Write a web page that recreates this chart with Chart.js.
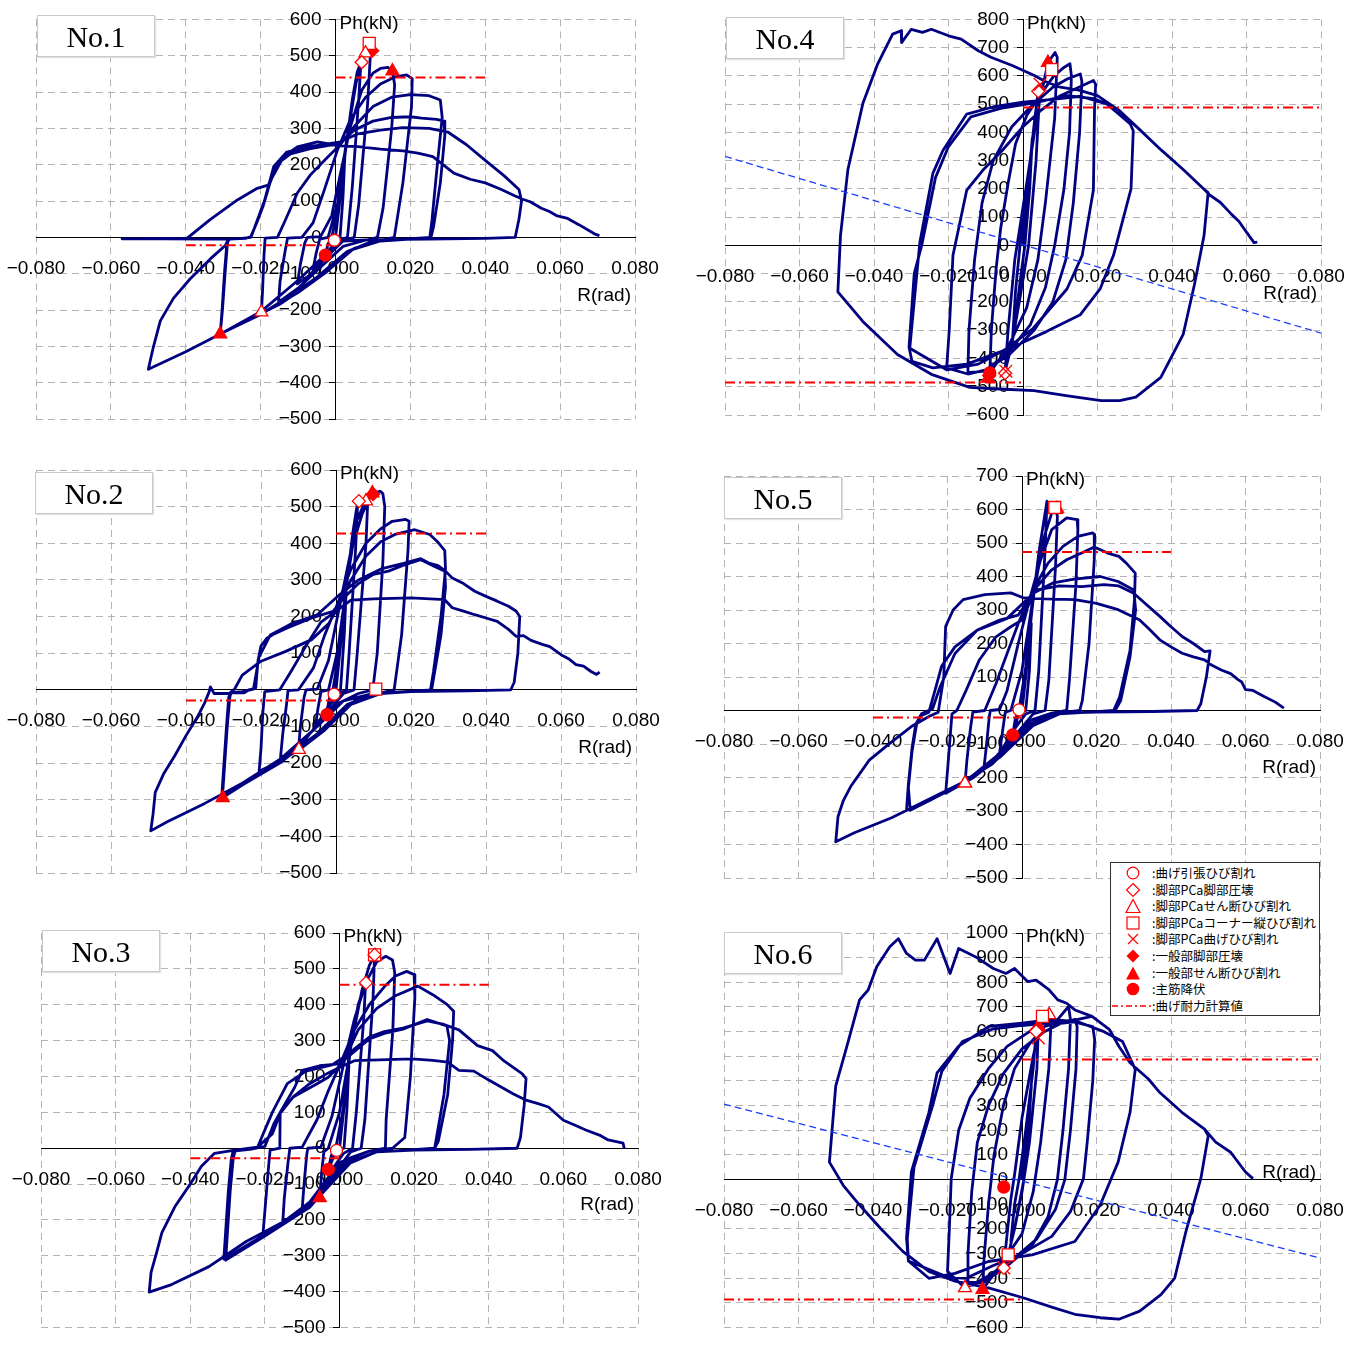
<!DOCTYPE html>
<html>
<head>
<meta charset="UTF-8">
<script src="https://cdn.jsdelivr.net/npm/chart.js@4.4.1/dist/chart.umd.min.js"></script>
<style>
  body { margin:0; background:#fff; width:1362px; height:1347px; position:relative; overflow:hidden; }
  canvas { position:absolute; left:-60px; top:0; }
  .ttl { position:absolute; width:116px; height:40px; border:1px solid #c9c9c9; box-shadow:1px 1px 1px #e2e2e2;
         background:#fff; font-family:"Liberation Serif"; font-size:30px; line-height:41px; text-align:center; z-index:5; }
  .legend { position:absolute; left:1110px; top:862px; width:208px; height:152px; border:1px solid #333;
            background:#fff; z-index:6; font-family:"Noto Sans CJK JP"; font-size:12.5px; }
  .legend .row { position:absolute; left:0; height:16px; line-height:16px; white-space:nowrap; }
  .legend svg { position:absolute; top:0; }
  .legend span { position:absolute; left:41px; top:0; }
</style>
</head>
<body>
<canvas id="c1" width="1482" height="1347"></canvas>
<canvas id="c2" width="1482" height="1347"></canvas>
<canvas id="c3" width="1482" height="1347"></canvas>
<canvas id="c4" width="1482" height="1347"></canvas>
<canvas id="c5" width="1482" height="1347"></canvas>
<canvas id="c6" width="1482" height="1347"></canvas>

<div class="ttl" style="left:37px;top:15px">No.1</div>
<div class="ttl" style="left:35px;top:472px">No.2</div>
<div class="ttl" style="left:42px;top:930px">No.3</div>
<div class="ttl" style="left:726px;top:17px">No.4</div>
<div class="ttl" style="left:724px;top:477px">No.5</div>
<div class="ttl" style="left:724px;top:932px">No.6</div>

<div class="legend">
  <div class="row" style="top:2px"><svg width="40" height="16"><circle cx="22" cy="8" r="5.8" fill="#fff" stroke="#f00" stroke-width="1.2"/></svg><span>:曲げ引張ひび割れ</span></div>
  <div class="row" style="top:18.6px"><svg width="40" height="16"><polygon points="22,1.5 28.5,8 22,14.5 15.5,8" fill="#fff" stroke="#f00" stroke-width="1.2"/></svg><span>:脚部PCa脚部圧壊</span></div>
  <div class="row" style="top:35.2px"><svg width="40" height="16"><polygon points="22,1.5 29,14.5 15,14.5" fill="#fff" stroke="#f00" stroke-width="1.2"/></svg><span>:脚部PCaせん断ひび割れ</span></div>
  <div class="row" style="top:51.8px"><svg width="40" height="16"><rect x="16" y="2" width="12" height="12" fill="#fff" stroke="#f00" stroke-width="1.2"/></svg><span>:脚部PCaコーナー縦ひび割れ</span></div>
  <div class="row" style="top:68.4px"><svg width="40" height="16"><path d="M17,3 L27,13 M27,3 L17,13" stroke="#f00" stroke-width="1.2"/></svg><span>:脚部PCa曲げひび割れ</span></div>
  <div class="row" style="top:85px"><svg width="40" height="16"><polygon points="22,1.5 28.5,8 22,14.5 15.5,8" fill="#f00"/></svg><span>:一般部脚部圧壊</span></div>
  <div class="row" style="top:101.6px"><svg width="40" height="16"><polygon points="22,1.5 29,14.5 15,14.5" fill="#f00"/></svg><span>:一般部せん断ひび割れ</span></div>
  <div class="row" style="top:118.2px"><svg width="40" height="16"><circle cx="22" cy="8" r="6.3" fill="#f00"/></svg><span>:主筋降伏</span></div>
  <div class="row" style="top:134.8px"><svg width="41" height="16"><line x1="1" y1="8" x2="41" y2="8" stroke="#f00" stroke-width="1.3" stroke-dasharray="6,3,2,3"/></svg><span>:曲げ耐力計算値</span></div>
</div>

<script>
// ---- data: [R (rad), Ph (kN)] ----
const no1Curve = [
  [0,0],[0.0015,130],[0.0025,225],[0.002,110],[0.0012,0],[-0.0012,-28],[-0.0027,-49],[-0.002,-18],[-0.001,0],
  [0.001,95],[0.003,265],[0.0045,380],[0.0058,455],[0.0068,482],[0.0062,380],[0.0045,140],[0.0032,0],[0.001,-8],[-0.002,-40],[-0.0045,-72],[-0.006,-88],[-0.0052,-45],[-0.0042,-5],[-0.002,0],
  [0.0005,90],[0.003,270],[0.0055,425],[0.0072,495],[0.008,507],[0.0088,528],[0.0093,500],[0.0086,370],[0.0062,90],[0.005,0],[0.002,-10],[-0.003,-60],[-0.007,-105],[-0.0102,-128],[-0.0094,-75],[-0.0082,-15],[-0.0075,0],[-0.004,2],
  [-0.001,60],[0.001,160],[0.004,305],[0.007,405],[0.01,452],[0.012,465],[0.014,468],[0.0152,458],[0.0158,420],[0.015,300],[0.0127,80],[0.0112,0],[0.008,-8],[0.002,-25],[-0.004,-82],[-0.01,-140],[-0.0152,-178],[-0.0148,-120],[-0.0135,-40],[-0.0128,-2],[-0.009,0],
  [-0.006,40],[-0.003,130],[0.0005,240],[0.004,325],[0.008,385],[0.012,422],[0.016,442],[0.019,447],[0.0205,437],[0.0203,360],[0.018,150],[0.0157,0],[0.012,-8],[0.005,-30],[-0.003,-100],[-0.01,-152],[-0.0155,-185],[-0.0198,-209],[-0.0195,-150],[-0.0191,-50],[-0.0188,-2],[-0.0155,0],
  [-0.0135,45],[-0.0102,122],[-0.0067,172],[-0.002,222],[0.001,252],[0.005,305],[0.01,360],[0.015,386],[0.02,393],[0.025,390],[0.028,378],[0.0285,330],[0.0272,200],[0.0258,50],[0.0252,0],[0.02,-5],[0.012,-10],[0.004,-35],[-0.005,-115],[-0.015,-185],[-0.025,-235],[-0.0308,-266],[-0.0302,-200],[-0.0295,-100],[-0.0289,-20],[-0.0286,-5],
  [-0.025,-3],[-0.0227,0],[-0.021,41],[-0.0193,87],[-0.0175,150],[-0.0155,203],[-0.012,230],[-0.0067,244],[0.001,258],[0.005,295],[0.01,320],[0.015,330],[0.02,332],[0.023,328],[0.027,325],[0.029,320],[0.0292,280],[0.028,150],[0.0262,30],[0.0255,0],[0.018,-5],[0.01,-10],[0.003,-40],[-0.005,-110],[-0.012,-160],[-0.02,-212],[-0.03,-262],[-0.0308,-268],[-0.0303,-200],[-0.0296,-90],[-0.029,-15],[-0.0283,-5],
  [-0.024,-3],[-0.0225,2],[-0.0208,50],[-0.019,100],[-0.0165,195],[-0.013,235],[-0.007,250],[0.001,262],[0.006,285],[0.012,295],[0.018,302],[0.025,300],[0.03,290],[0.035,255],[0.04,212],[0.045,170],[0.049,132],[0.0497,100],[0.049,50],[0.048,0],
  [0.04,-3],[0.025,-5],[0.01,-6],[0.002,-10],[-0.004,-60],[-0.01,-118],[-0.02,-205],[-0.03,-262],[-0.04,-315],[-0.05,-363],
  [-0.0487,-304],[-0.0468,-230],[-0.0433,-168],[-0.0388,-114],[-0.0335,-60],[-0.0294,-22],[-0.0286,-5],[-0.035,-5],[-0.045,-4],[-0.057,-4],[-0.045,-3],[-0.0396,-2],
  [-0.0335,49],[-0.0262,103],[-0.0209,135],[-0.018,144],[-0.0139,222],[-0.0102,249],[-0.0048,263],[0.0013,252],[0.006,250],[0.012,243],[0.018,238],[0.022,232],[0.026,222],[0.0316,177],[0.036,160],[0.04,150],[0.044,133],[0.048,114],[0.05,105],[0.052,98],[0.055,80],[0.057,72],[0.059,60],[0.062,52],[0.065,35],[0.0695,8],[0.0705,5]
];
const no2Curve = [
  [0,0],[0.0015,150],[0.0028,290],[0.0022,150],[0.0012,0],[-0.001,-25],[-0.0025,-63],[-0.0018,-25],[-0.0008,0],
  [0.001,120],[0.003,300],[0.0045,430],[0.0058,515],[0.0052,380],[0.0035,100],[0.0028,0],[0.001,-10],[-0.002,-45],[-0.0045,-85],[-0.0055,-100],[-0.0048,-50],[-0.004,-5],[-0.002,0],
  [0.0005,110],[0.003,300],[0.0055,460],[0.0078,515],[0.0085,525],[0.008,400],[0.0055,80],[0.0048,0],[0.002,-10],[-0.003,-70],[-0.007,-120],[-0.01,-163],[-0.0095,-100],[-0.0085,-20],[-0.008,0],[-0.005,2],
  [-0.002,80],[0.001,230],[0.004,380],[0.007,480],[0.0095,537],[0.0118,542],[0.0125,535],[0.013,500],[0.0125,350],[0.011,100],[0.0098,0],[0.006,-10],[0.0,-40],[-0.006,-110],[-0.012,-170],[-0.0148,-185],[-0.0142,-120],[-0.0132,-40],[-0.0128,-2],[-0.01,0],
  [-0.006,60],[-0.003,150],[0.001,250],[0.004,330],[0.008,400],[0.012,440],[0.015,460],[0.0186,465],[0.0195,460],[0.0192,380],[0.0175,150],[0.0155,0],[0.012,-8],[0.005,-30],[-0.003,-110],[-0.01,-165],[-0.018,-210],[-0.0205,-222],[-0.02,-160],[-0.0195,-60],[-0.019,-5],[-0.015,0],
  [-0.012,50],[-0.008,120],[-0.004,185],[0.0,215],[0.004,300],[0.008,365],[0.012,405],[0.016,425],[0.021,437],[0.025,424],[0.027,405],[0.029,380],[0.0292,330],[0.028,200],[0.026,50],[0.0252,0],[0.02,-5],[0.012,-10],[0.004,-40],[-0.005,-120],[-0.015,-200],[-0.025,-260],[-0.0303,-295],[-0.0298,-220],[-0.029,-100],[-0.0283,-20],[-0.028,-8],
  [-0.0245,-8],[-0.0232,0],[-0.0214,5],[-0.0208,80],[-0.02,120],[-0.0185,140],[-0.0168,151],[-0.013,169],[-0.0065,196],[-0.0008,214],[0.002,250],[0.006,290],[0.01,315],[0.014,324],[0.018,340],[0.0226,355],[0.024,348],[0.026,338],[0.029,324],[0.0292,280],[0.028,150],[0.026,30],[0.0255,0],[0.018,-5],[0.01,-10],[0.003,-40],[-0.005,-120],[-0.015,-195],[-0.025,-255],[-0.0305,-296],[-0.03,-220],[-0.0292,-100],[-0.0286,-20],[-0.0282,-8],
  [-0.025,-5],[-0.022,2],[-0.0205,90],[-0.0175,150],[-0.012,180],[-0.005,205],[0.001,260],[0.006,300],[0.012,330],[0.018,345],[0.0226,358],[0.025,345],[0.027,340],[0.029,326],[0.031,305],[0.034,290],[0.037,269],[0.04,255],[0.043,242],[0.046,228],[0.048,215],[0.049,200],[0.0485,100],[0.0475,20],[0.0466,0],
  [0.035,-3],[0.02,-5],[0.01,-10],[0.002,-30],[-0.005,-100],[-0.015,-190],[-0.025,-255],[-0.035,-310],[-0.045,-360],[-0.0494,-385],[-0.0488,-340],[-0.0482,-280],[-0.046,-230],[-0.043,-180],[-0.04,-125],[-0.037,-75],[-0.035,-35],[-0.0338,-5],
  [-0.0335,8],[-0.0325,-10],[-0.0285,-10],[-0.027,3],[-0.025,40],[-0.02,78],[-0.0134,105],[-0.0065,137],[-0.002,180],[0.0,215],[0.004,245],[0.01,248],[0.02,251],[0.029,246],[0.031,224],[0.034,215],[0.037,205],[0.04,196],[0.043,187],[0.046,165],[0.048,146],[0.05,148],[0.052,135],[0.055,124],[0.057,118],[0.06,96],[0.062,85],[0.064,69],[0.066,65],[0.068,50],[0.0695,42],[0.0703,48]
];
const no3Curve = [
  [0,0],[0.0015,140],[0.0025,230],[0.002,110],[0.0012,0],[-0.0008,-6],[-0.002,-35],[-0.003,-60],[-0.0022,-20],[-0.001,0],
  [0.001,110],[0.003,280],[0.005,400],[0.007,461],[0.0065,360],[0.0045,100],[0.0035,0],[0.001,-15],[-0.002,-60],[-0.0053,-138],[-0.0048,-70],[-0.0042,-10],[-0.003,0],
  [0,100],[0.003,280],[0.006,440],[0.008,510],[0.0094,539],[0.009,420],[0.0068,80],[0.0058,0],[0.003,-10],[-0.002,-80],[-0.007,-150],[-0.01,-170],[-0.0095,-100],[-0.0088,-20],[-0.0085,0],[-0.005,3],
  [-0.002,90],[0.001,230],[0.004,360],[0.007,460],[0.01,520],[0.0124,535],[0.0142,525],[0.0148,490],[0.0143,330],[0.0125,80],[0.0123,0],[0.008,-8],[0.002,-30],[-0.005,-120],[-0.012,-190],[-0.0152,-205],[-0.0148,-140],[-0.0138,-40],[-0.0133,0],[-0.01,3],
  [-0.006,80],[-0.003,160],[0.0,230],[0.004,330],[0.008,400],[0.012,450],[0.015,480],[0.018,493],[0.02,484],[0.0202,420],[0.019,200],[0.0175,30],[0.0142,0],[0.008,-8],[0.0,-40],[-0.008,-150],[-0.015,-205],[-0.02,-235],[-0.0205,-238],[-0.0198,-150],[-0.019,-50],[-0.0186,-5],[-0.016,0],
  [-0.0159,97],[-0.0124,143],[-0.006,180],[-0.003,198],[0.001,240],[0.005,330],[0.01,390],[0.015,425],[0.021,452],[0.025,428],[0.0288,401],[0.0306,382],[0.0303,300],[0.029,150],[0.0265,20],[0.0255,0],[0.018,-5],[0.01,-10],[0.002,-40],[-0.008,-160],[-0.02,-240],[-0.031,-309],[-0.0305,-230],[-0.0298,-120],[-0.029,-30],[-0.0285,-8],
  [-0.024,-3],[-0.02,5],[-0.0175,70],[-0.0159,100],[-0.012,170],[-0.01,217],[-0.0053,230],[0.0,235],[0.004,270],[0.008,305],[0.012,320],[0.017,332],[0.0235,359],[0.026,350],[0.0288,341],[0.0295,300],[0.028,150],[0.026,30],[0.0255,0],
  [0.018,-5],[0.01,-10],[0.002,-45],[-0.008,-165],[-0.02,-245],[-0.0305,-312],[-0.03,-230],[-0.0293,-120],[-0.0285,-30],[-0.028,-8],
  [-0.022,2],[-0.018,100],[-0.014,180],[-0.009,215],[-0.002,232],[0.002,260],[0.008,310],[0.012,325],[0.017,335],[0.0235,355],[0.028,345],[0.032,330],[0.037,286],[0.041,272],[0.044,244],[0.049,207],[0.05,194],[0.0495,120],[0.0485,30],[0.0476,0],
  [0.035,-3],[0.02,-5],[0.01,-10],[0.003,-40],[-0.005,-130],[-0.015,-205],[-0.025,-260],[-0.035,-330],[-0.045,-380],[-0.051,-401],[-0.0505,-346],[-0.049,-290],[-0.0476,-235],[-0.044,-161],[-0.04,-100],[-0.037,-50],[-0.0335,-14],[-0.028,-5],[-0.022,3],
  [-0.018,40],[-0.0159,97],[-0.0124,143],[-0.008,180],[-0.003,210],[0.0,225],[0.004,244],[0.0194,249],[0.025,245],[0.029,240],[0.032,217],[0.036,215],[0.04,190],[0.0465,152],[0.05,134],[0.053,125],[0.056,115],[0.06,78],[0.063,65],[0.066,51],[0.07,35],[0.072,23],[0.0745,18],[0.076,14],[0.0763,0]
];
const no4Curve = [
  [0,0],[0.001,150],[0.002,300],[0.0025,380],[0.0018,200],[0.0005,0],[-0.001,-150],[-0.002,-260],[-0.0028,-330],[-0.002,-160],[-0.0008,0],
  [0.001,190],[0.003,430],[0.0041,546],[0.0046,570],[0.0035,300],[0.0015,0],[-0.001,-200],[-0.003,-350],[-0.0048,-445],[-0.004,-300],[-0.0022,-50],[-0.001,50],
  [0.001,220],[0.004,480],[0.0067,647],[0.0086,683],[0.0092,665],[0.0085,450],[0.006,150],[0.004,-50],[0.001,-220],[-0.004,-360],[-0.0089,-450],
  [-0.0085,-300],[-0.0072,-80],[-0.006,60],[-0.004,220],[-0.002,360],[0.001,460],[0.005,540],[0.0083,600],[0.011,630],[0.0126,643],[0.013,600],[0.0125,400],[0.011,200],[0.0085,0],[0.006,-150],[0.002,-280],[-0.004,-380],[-0.0103,-445],
  [-0.0148,-450],[-0.0145,-300],[-0.013,-50],[-0.011,150],[-0.008,300],[-0.003,420],[0.002,490],[0.008,560],[0.012,590],[0.0154,607],[0.0158,580],[0.0152,400],[0.0135,150],[0.0115,-50],[0.008,-200],[0.003,-300],[-0.004,-390],[-0.01,-440],[-0.0148,-455],
  [-0.0205,-433],[-0.0198,-300],[-0.0188,-35],[-0.0151,196],[-0.0108,266],[-0.006,330],[0.0,420],[0.005,480],[0.01,530],[0.015,560],[0.0189,584],[0.0195,570],[0.0192,483],[0.0189,196],[0.0159,-35],[0.0118,-154],[0.0027,-294],[-0.005,-370],[-0.012,-420],[-0.0205,-440],
  [-0.0304,-364],[-0.0277,10],[-0.0242,255],[-0.0215,336],[-0.0151,465],[-0.0081,490],[0.0,507],[0.008,517],[0.0154,528],[0.0226,500],[0.0288,430],[0.0296,406],[0.029,200],[0.0243,-35],[0.0207,-154],[0.0154,-245],[0.0064,-304],[-0.0035,-364],[-0.0151,-420],[-0.0242,-433],[-0.0298,-410],
  [-0.0306,-360],[-0.0292,-100],[-0.0272,0],[-0.0235,240],[-0.02,350],[-0.014,455],[-0.006,485],[0.003,505],[0.012,530],[0.019,520],[0.0226,500],[0.0257,479],[0.0314,409],[0.037,339],[0.043,269],[0.0486,199],[0.0497,187],
  [0.0486,35],[0.046,-140],[0.043,-315],[0.037,-467],[0.0303,-537],[0.026,-549],[0.021,-549],[0.012,-532],[0.0029,-514],[-0.0063,-508],[-0.0143,-502],[-0.0246,-456],[-0.0337,-386],[-0.043,-269],[-0.0497,-164],
  [-0.049,35],[-0.047,269],[-0.043,502],[-0.039,643],[-0.035,748],[-0.0327,760],[-0.0326,718],[-0.03,765],[-0.027,754],[-0.0246,765],[-0.02,742],[-0.0166,730],[-0.012,689],[-0.0086,666],[-0.0029,637],[0.0029,602],[0.006,580],[0.01,560],[0.015,550],[0.02,530],[0.0257,479],[0.0314,409],[0.037,339],[0.043,269],[0.0486,199],[0.05,180],[0.053,152],[0.056,110],[0.058,85],[0.06,47],[0.0615,20],[0.062,10],[0.0629,12]
];
const no5Curve = [
  [0,0],[0.0015,150],[0.0025,260],[0.002,120],[0.001,0],[-0.0008,0],[-0.0015,-35],[-0.0025,-73],[-0.0018,-25],[-0.0008,0],
  [0.001,130],[0.003,330],[0.0045,470],[0.0055,540],[0.0067,625],[0.0062,480],[0.0045,120],[0.0035,0],[0.001,-10],[-0.002,-55],[-0.005,-110],[-0.006,-125],[-0.0052,-60],[-0.0045,-5],[-0.003,0],
  [0.0,120],[0.003,340],[0.006,520],[0.008,590],[0.009,605],[0.0095,580],[0.009,430],[0.0072,90],[0.0062,0],[0.003,-10],[-0.003,-90],[-0.008,-150],[-0.0102,-170],[-0.0095,-100],[-0.0088,-20],[-0.0085,0],[-0.006,3],
  [-0.004,60],[-0.001,200],[0.002,330],[0.005,450],[0.008,540],[0.012,575],[0.0148,570],[0.015,540],[0.0145,380],[0.0128,100],[0.012,0],[0.008,-8],[0.002,-30],[-0.005,-120],[-0.012,-190],[-0.0153,-217],[-0.0148,-150],[-0.0138,-50],[-0.0132,-5],[-0.01,0],
  [-0.007,80],[-0.004,170],[-0.001,260],[0.003,360],[0.007,440],[0.011,490],[0.015,520],[0.019,530],[0.0195,525],[0.0194,450],[0.018,200],[0.0162,30],[0.0155,0],[0.01,-8],[0.003,-40],[-0.005,-130],[-0.013,-200],[-0.0205,-247],[-0.02,-180],[-0.0193,-80],[-0.0188,-10],[-0.0175,0],
  [-0.015,60],[-0.0115,150],[-0.007,220],[-0.003,250],[0.0,270],[0.004,370],[0.008,420],[0.012,450],[0.016,470],[0.0194,488],[0.023,470],[0.026,460],[0.028,440],[0.0304,410],[0.0302,330],[0.029,180],[0.0262,40],[0.0246,0],[0.018,-5],[0.01,-10],[0.003,-45],[-0.006,-140],[-0.016,-215],[-0.025,-270],[-0.031,-297],[-0.0305,-220],[-0.0295,-110],[-0.0285,-40],[-0.027,-15],[-0.025,-5],
  [-0.0233,62],[-0.0216,132],[-0.018,190],[-0.012,240],[-0.006,270],[-0.001,285],[0.003,350],[0.0084,381],[0.014,392],[0.021,400],[0.0258,385],[0.03,360],[0.0305,300],[0.029,160],[0.0265,30],[0.025,0],[0.018,-5],[0.01,-10],[0.002,-50],[-0.008,-160],[-0.018,-230],[-0.03,-298],[-0.0305,-230],[-0.0295,-120],[-0.0282,-35],[-0.027,-10],
  [-0.024,5],[-0.022,70],[-0.018,170],[-0.012,240],[-0.004,275],[0.004,360],[0.01,372],[0.016,370],[0.022,376],[0.026,372],[0.03,350],[0.033,320],[0.037,281],[0.04,250],[0.043,221],[0.046,200],[0.049,176],[0.0505,178],[0.0495,100],[0.048,20],[0.047,0],
  [0.035,-3],[0.02,-5],[0.01,-8],[0.002,-40],[-0.005,-120],[-0.015,-210],[-0.025,-265],[-0.035,-320],[-0.045,-365],[-0.05,-392],[-0.0494,-317],[-0.048,-270],[-0.046,-227],[-0.041,-148],[-0.0355,-98],[-0.0297,-48],[-0.025,-18],[-0.0225,-5],
  [-0.021,100],[-0.0205,251],[-0.0185,300],[-0.0158,331],[-0.01,346],[-0.003,351],[0.0005,336],[0.006,333],[0.0142,331],[0.02,320],[0.0258,301],[0.0315,271],[0.034,245],[0.037,211],[0.04,190],[0.043,171],[0.046,160],[0.049,151],[0.051,135],[0.0535,121],[0.056,110],[0.058,92],[0.059,85],[0.06,62],[0.062,60],[0.065,42],[0.068,25],[0.0703,7]
];
const no6Curve = [
  [0,0],[0.001,150],[0.002,300],[0.0025,380],[0.0015,150],[0.0005,0],[-0.001,-120],[-0.002,-200],[-0.003,-250],[-0.002,-100],[-0.0008,0],
  [0.001,200],[0.003,450],[0.0038,601],[0.0044,621],[0.004,450],[0.002,150],[0.0,-50],[-0.002,-200],[-0.0037,-305],[-0.0049,-358],[-0.0042,-250],[-0.003,-80],[-0.002,20],
  [0.0,250],[0.003,500],[0.0055,662],[0.0073,668],[0.0078,640],[0.0072,450],[0.005,150],[0.003,-50],[0.0,-220],[-0.005,-330],[-0.0106,-446],
  [-0.0102,-320],[-0.009,-100],[-0.0075,100],[-0.005,300],[-0.002,450],[0.002,550],[0.006,620],[0.0096,650],[0.0125,702],[0.013,650],[0.0125,450],[0.011,200],[0.0095,0],[0.007,-150],[0.003,-260],[-0.004,-350],[-0.0106,-420],
  [-0.0147,-412],[-0.0145,-300],[-0.0135,-50],[-0.012,150],[-0.009,300],[-0.005,430],[0.0,530],[0.006,600],[0.01,630],[0.0142,650],[0.0148,620],[0.0145,450],[0.013,200],[0.0115,0],[0.009,-120],[0.004,-240],[-0.003,-330],[-0.01,-400],[-0.0153,-439],
  [-0.02,-372],[-0.0195,-200],[-0.019,4],[-0.017,200],[-0.014,330],[-0.009,450],[-0.004,540],[0.002,600],[0.008,630],[0.014,640],[0.019,620],[0.0195,568],[0.019,400],[0.0175,150],[0.0165,4],[0.013,-130],[0.008,-230],[0.0,-300],[-0.008,-350],[-0.015,-400],[-0.02,-395],
  [-0.0305,-330],[-0.031,-238],[-0.0297,31],[-0.025,272],[-0.0228,433],[-0.017,541],[-0.0089,621],[0.0,635],[0.008,650],[0.015,640],[0.022,600],[0.027,560],[0.0304,447],[0.029,272],[0.0258,71],[0.021,-103],[0.0142,-251],[0.0027,-305],[-0.009,-332],[-0.018,-380],[-0.025,-400],[-0.0305,-330],
  [-0.0308,-240],[-0.029,50],[-0.024,300],[-0.0215,440],[-0.016,560],[-0.008,610],[0.0,625],[0.01,640],[0.015,650],[0.0188,662],[0.0235,608],[0.026,541],[0.029,474],[0.034,407],[0.037,353],[0.043,272],[0.049,205],[0.05,178],
  [0.048,4],[0.044,-211],[0.041,-399],[0.0373,-466],[0.0316,-533],[0.026,-566],[0.021,-560],[0.0142,-546],[0.0084,-519],[0.0003,-479],[-0.009,-439],[-0.018,-412],[-0.025,-372],[-0.032,-291],[-0.038,-197],[-0.0436,-103],[-0.048,-23],[-0.0517,71],
  [-0.05,380],[-0.047,541],[-0.0436,729],[-0.0413,769],[-0.039,863],[-0.0355,944],[-0.0332,977],[-0.031,917],[-0.0286,890],[-0.0262,890],[-0.0228,977],[-0.0193,836],[-0.017,937],[-0.0124,903],[-0.0077,856],[-0.0043,836],[-0.002,856],[0.0015,803],[0.0038,809],[0.0073,769],[0.0096,729],[0.012,715],[0.0142,688],[0.0188,662],[0.0235,608],[0.026,541],[0.029,474],[0.034,407],[0.037,353],[0.043,272],[0.049,205],[0.052,152],[0.056,111],[0.06,31],[0.062,4]
];

// event markers: [type, R, Ph]  o=曲げ引張 d=脚部圧壊 t=PCaせん断 s=コーナー縦 x=PCa曲げ D=一般部圧壊 T=一般部せん断 O=主筋降伏
const no1Marks = [['D',0.0098,514],['T',0.0152,458],['T',-0.0308,-266],['O',-0.0027,-49],['o',-0.0003,-8],['d',0.007,482],['t',0.008,507],['s',0.009,534],['t',-0.0198,-206]];
const no2Marks = [['T',0.0097,537],['D',0.0099,534],['T',-0.0302,-295],['O',-0.0024,-68],['o',-0.0005,-12],['d',0.0061,515],['t',0.008,515],['s',0.0106,2],['t',-0.0099,-163]];
const no3Marks = [['T',-0.0053,-138],['O',-0.003,-59],['o',-0.0008,-6],['d',0.0071,461],['s',0.0094,539],['t',0.0096,536],['d',0.0094,539]];
const no4Marks = [['T',0.0067,647],['T',-0.0094,-470],['D',-0.0091,-460],['O',-0.0089,-451],['s',0.0077,622],['x',0.0046,570],['d',0.0041,546],['x',-0.0046,-445],['d',-0.0048,-452]];
const no5Marks = [['T',0.0094,603],['T',-0.0153,-217],['O',-0.0025,-73],['o',-0.0008,2],['s',0.0088,606],['t',0.0091,600],['t',-0.0153,-217]];
const no6Marks = [['T',0.0044,621],['D',0.004,608],['T',-0.0106,-446],['O',-0.0049,-30],['s',0.0055,662],['t',0.0073,668],['d',0.0038,601],['x',0.0044,575],['s',-0.0037,-305],['d',-0.0049,-358],['x',-0.0049,-358],['t',-0.0153,-439]];

// 曲げ耐力計算値: [R from, R to, Ph]
const no1Cap = [[0,0.04,440],[-0.04,0,-22]];
const no2Cap = [[0,0.04,427],[-0.04,0,-29]];
const no3Cap = [[0,0.04,456],[-0.04,0,-28]];
const no4Cap = [[0,0.08,488],[-0.08,0,-485]];
const no5Cap = [[0,0.04,473],[-0.04,0,-21]];
const no6Cap = [[0,0.08,487],[-0.08,0,-486]];

// thin blue dashed guide lines: [R, Ph] end points
const no4Guide = [[-0.08,315],[0.08,-310]];
const no6Guide = [[-0.08,306],[0.08,-318]];

const NAVY = '#000080', RED = '#ff0000';
const FONT = '"Liberation Sans", Arial, sans-serif';
const SHIFT = 60;   // canvases sit 60px left of the page so edge labels have room

const markStyle = {
  o: {style:'circle',   r:6,   fill:'#ffffff', order:0},
  d: {style:'rectRot',  r:6.5, fill:'#ffffff', order:0},
  t: {style:'triangle', r:7.5, fill:'#ffffff', order:0},
  s: {style:'rect',     r:8.5, fill:'#ffffff', order:0},
  x: {style:'crossRot', r:9,   fill:RED,       order:0},
  D: {style:'rectRot',  r:6.5, fill:RED,       order:1},
  T: {style:'triangle', r:7.5, fill:RED,       order:1},
  O: {style:'circle',   r:6,   fill:RED,       order:1}
};

const axisTitles = {
  id: 'axisTitles',
  afterDraw(chart, args, opts) {
    const {ctx, chartArea, scales} = chart;
    const x0 = scales.x.getPixelForValue(0);
    const y0 = scales.y.getPixelForValue(0);
    ctx.save();
    ctx.font = '19px ' + FONT;
    ctx.fillStyle = '#000';
    ctx.textBaseline = 'middle';
    ctx.textAlign = 'left';
    ctx.fillText('Ph(kN)', x0 + 4, chartArea.top + 4);
    ctx.textAlign = 'right';
    ctx.fillText('R(rad)', chartArea.right - 4, y0 + opts.rDy);
    ctx.restore();
  }
};

function fmtR(v) {
  const s = Math.abs(v).toFixed(3);
  return v < -1e-9 ? '\u2212' + s : s;
}
function fmtP(v) {
  return v < 0 ? '\u2212' + Math.abs(Math.round(v)) : String(Math.round(v));
}
const xy = arr => arr.map(p => ({x: p[0], y: p[1]}));

function makeChart(id, curve, marks, cap, guide, yMin, yMax, area, rDy) {
  const datasets = [];
  const types = [...new Set(marks.map(m => m[0]))];
  types.forEach(t => {
    const st = markStyle[t];
    datasets.push({
      data: xy(marks.filter(m => m[0] === t).map(m => [m[1], m[2]])),
      pointStyle: st.style, pointRadius: st.r, pointBackgroundColor: st.fill,
      pointBorderColor: RED, pointBorderWidth: 1.3, showLine: false, order: st.order
    });
  });
  cap.forEach(c => datasets.push({
    data: xy([[c[0], c[2]], [c[1], c[2]]]), showLine: true, pointRadius: 0,
    borderColor: RED, borderWidth: 2, borderDash: [10, 4, 2, 4], order: 2
  }));
  if (guide) datasets.push({
    data: xy(guide), showLine: true, pointRadius: 0,
    borderColor: '#1a3cff', borderWidth: 1.2, borderDash: [7, 4], order: 3
  });
  datasets.push({
    data: xy(curve), showLine: true, pointRadius: 0, borderColor: NAVY,
    borderWidth: 2.8, borderJoinStyle: 'round', tension: 0, order: 4
  });

  const tickFont = {family: FONT, size: 19};
  const W = 1362 + 2 * SHIFT;
  new Chart(document.getElementById(id), {
    type: 'scatter',
    data: {datasets},
    options: {
      responsive: false, animation: false, events: [], devicePixelRatio: 1,
      layout: {padding: {left: area[0] + SHIFT, right: W - area[1] - SHIFT, top: area[2], bottom: 1347 - area[3]}},
      plugins: {legend: {display: false}, tooltip: {enabled: false}, axisTitles: {rDy}},
      scales: {
        x: {
          type: 'linear', min: -0.08, max: 0.08, position: {y: 0},
          ticks: {stepSize: 0.02, autoSkip: false, maxRotation: 0, padding: 20, color: '#000', font: tickFont, callback: fmtR},
          grid: {color: '#b4b4b4', lineWidth: 1, drawTicks: false},
          border: {display: true, color: '#000', width: 1, dash: [7, 5]}
        },
        y: {
          type: 'linear', min: yMin, max: yMax, position: 'center',
          ticks: {stepSize: 100, autoSkip: false, padding: 8, color: '#000', font: tickFont, callback: fmtP},
          grid: {color: '#b4b4b4', lineWidth: 1, drawTicks: true, tickLength: 6, tickColor: '#000', tickBorderDash: []},
          border: {display: true, color: '#000', width: 1, dash: [7, 5]}
        }
      }
    },
    plugins: [axisTitles]
  });
}

makeChart('c1', no1Curve, no1Marks, no1Cap, null, -500, 600, [36, 635, 15, 419], 58);
makeChart('c2', no2Curve, no2Marks, no2Cap, null, -500, 600, [36, 636, 470, 873], 58);
makeChart('c3', no3Curve, no3Marks, no3Cap, null, -500, 600, [41, 638, 933, 1330], 57);
makeChart('c4', no4Curve, no4Marks, no4Cap, no4Guide, -600, 800, [725, 1321, 15, 415], 48);
makeChart('c5', no5Curve, no5Marks, no5Cap, null, -500, 700, [724, 1320, 476, 878], 57);
makeChart('c6', no6Curve, no6Marks, no6Cap, no6Guide, -600, 1000, [724, 1320, 933, 1333], -7);
</script>
</body>
</html>
